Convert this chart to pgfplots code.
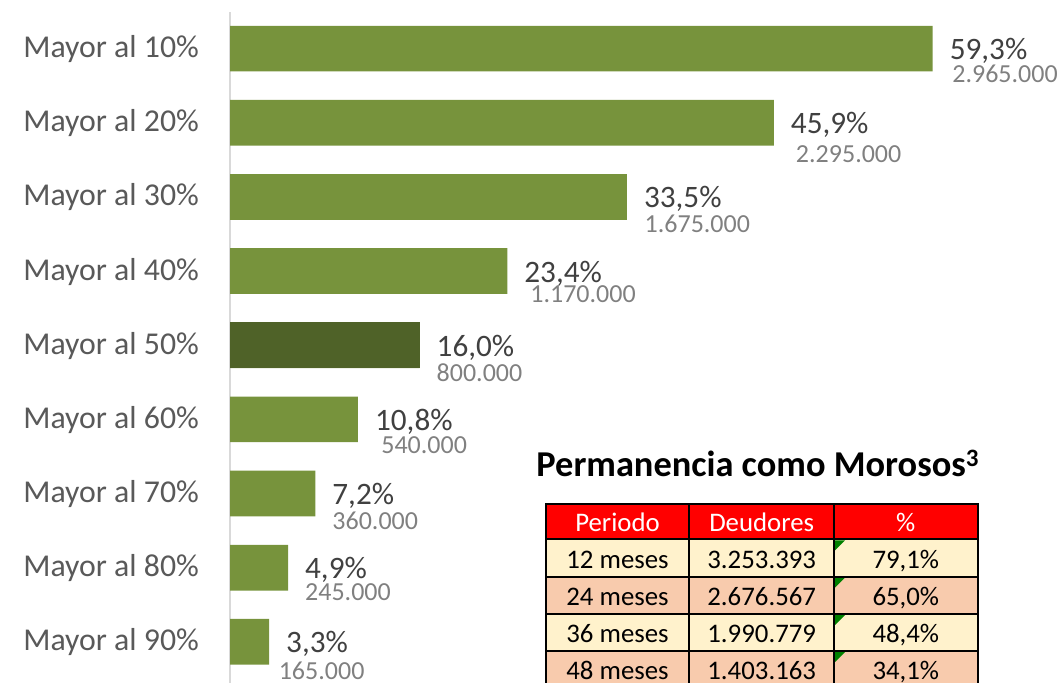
\documentclass[border=0pt]{standalone}
\usepackage{pgfplots}
\pgfplotsset{compat=1.18}
\usepackage{pgfplotstable}
\usepackage{fontspec}
\setmainfont{Carlito}

\definecolor{barverde}{HTML}{77933C}
\definecolor{barosc}{HTML}{4F6228}
\definecolor{txtcat}{HTML}{595959}
\definecolor{txtpct}{HTML}{404040}
\definecolor{txtcnt}{HTML}{808080}
\definecolor{ejegris}{HTML}{D9D9D9}
\definecolor{filaclara}{HTML}{FFF2CC}
\definecolor{filaosc}{HTML}{F8CBAD}

% y: 0 = Mayor al 90%, 8 = Mayor al 10%; dx, dy = offsets of the count label (px)
\pgfplotstableread{
y pct cnt dx dy
8 59.3 2.965.000 19.3 34.1
7 45.9 2.295.000 21.7 39.4
6 33.5 1.675.000 17.3 35.3
5 23.4 1.170.000 22.7 31.2
4 16.0 800.000 16.7 36.7
3 10.8 540.000 23.0 33.7
2 7.2 360.000 16.7 36.3
1 4.9 245.000 16.7 33.2
0 3.3 165.000 9.3 38.1
}\morosos

\begin{document}
\begin{tikzpicture}
\useasboundingbox (0,0) rectangle (531.5pt,341.5pt);
\clip (0,0) rectangle (531.5pt,341.5pt);

\begin{axis}[
  at={(115pt,0pt)}, anchor=south west,
  scale only axis,
  width=416.5pt, height=335.5pt,
  xmin=0, xmax=70.3,
  ymin=-0.555, ymax=8.494,
  axis x line=none,
  axis y line*=left,
  y axis line style={-, draw=ejegris, line width=1pt},
  major tick length=0pt,
  ytick={0,...,8},
  yticklabels={Mayor al 90\%,Mayor al 80\%,Mayor al 70\%,Mayor al 60\%,Mayor al 50\%,Mayor al 40\%,Mayor al 30\%,Mayor al 20\%,Mayor al 10\%},
  yticklabel style={anchor=base east, inner sep=0pt, xshift=-15.35pt, yshift=-4.5pt,
    font=\fontsize{15.9}{18}\selectfont, text=txtcat},
  /pgf/number format/assume math mode=true,
  clip=false,
]
\addplot[xbar, bar shift=0pt, bar width=22.85pt, fill=barverde, draw=none,
  point meta=x,
  nodes near coords={\pgfmathprintnumber[fixed,fixed zerofill,precision=1,use comma]{\pgfplotspointmeta}\%},
  nodes near coords style={anchor=base west, inner sep=0pt, xshift=8.35pt, yshift=-5.5pt,
    font=\fontsize{15.6}{18}\selectfont, text=txtpct},
] table[x=pct, y=y] {\morosos};
\addplot[xbar, bar shift=0pt, bar width=22.85pt, fill=barosc, draw=none]
  coordinates {(16.0,4)};
\addplot[draw=none, mark=none,
  point meta=explicit symbolic,
  visualization depends on={\thisrow{dx} \as \dx},
  visualization depends on={\thisrow{dy} \as \dy},
  nodes near coords,
  nodes near coords style={anchor=base west, inner sep=0pt,
    xshift={\dx*0.5pt}, yshift={-\dy*0.5pt},
    font=\fontsize{13}{15}\selectfont, text=txtcnt},
] table[x=pct, y=y, meta=cnt] {\morosos};
\end{axis}

% table drawn in pixel coordinates of the reference
\begin{scope}[x=0.5pt, y=-0.5pt, shift={(0pt,341.5pt)}]
\node[anchor=base west, inner sep=0pt, font=\fontsize{18.2}{20}\selectfont\bfseries]
  at (536,476.7) {Permanencia como Morosos\raisebox{5pt}{\fontsize{12.5}{13}\selectfont 3}};
\fill[red] (545.7,504) rectangle (977.7,539.3);
\fill[filaclara] (545.7,539.3) rectangle (977.7,576.7);
\fill[filaosc] (545.7,576.7) rectangle (977.7,614);
\fill[filaclara] (545.7,614) rectangle (977.7,651);
\fill[filaosc] (545.7,651) rectangle (977.7,688);
\foreach \t in {539.3,576.7,614,651}
  \fill[green!50!black] (835,\t+1) -- (845,\t+1) -- (835,\t+11) -- cycle;
\draw[black, line width=1pt]
  (545.7,504) rectangle (977.7,688)
  (689.3,504) -- (689.3,688)
  (834,504) -- (834,688)
  (545.7,539.3) -- (977.7,539.3)
  (545.7,576.7) -- (977.7,576.7)
  (545.7,614) -- (977.7,614)
  (545.7,651) -- (977.7,651);
\begin{scope}[every node/.style={anchor=base, inner sep=0pt, font=\fontsize{13.4}{15}\selectfont}]
\node[text=white] at (617.5,531.7) {Periodo};
\node[text=white] at (761.7,531.7) {Deudores};
\node[text=white] at (905.8,531.7) {\%};
\node at (617.5,568.3) {12 meses};
\node at (761.7,568.3) {3.253.393};
\node at (905.8,568.3) {79,1\%};
\node at (617.5,605.7) {24 meses};
\node at (761.7,605.7) {2.676.567};
\node at (905.8,605.7) {65,0\%};
\node at (617.5,642.7) {36 meses};
\node at (761.7,642.7) {1.990.779};
\node at (905.8,642.7) {48,4\%};
\node at (617.5,679.7) {48 meses};
\node at (761.7,679.7) {1.403.163};
\node at (905.8,679.7) {34,1\%};
\end{scope}
\end{scope}
\end{tikzpicture}
\end{document}
